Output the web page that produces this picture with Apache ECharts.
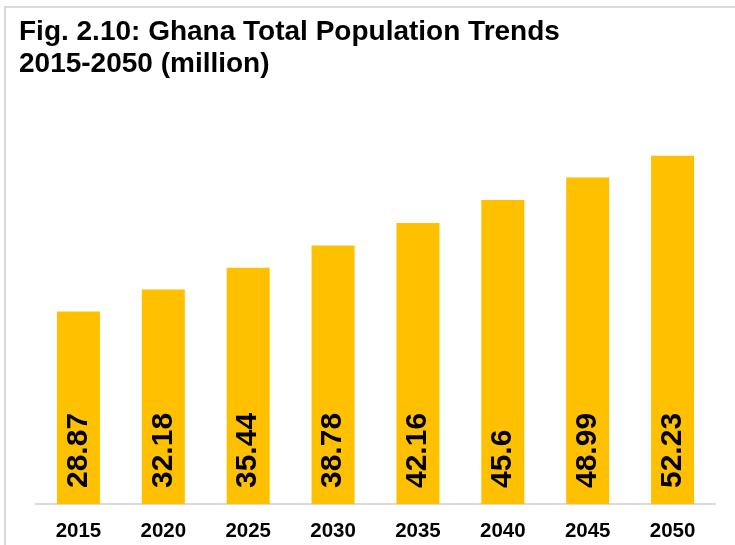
<!DOCTYPE html>
<html>
<head>
<meta charset="utf-8">
<script src="https://cdn.jsdelivr.net/npm/echarts@6/dist/echarts.min.js"></script>
<style>
  html, body { margin: 0; padding: 0; background: #ffffff; }
  #chart { width: 735px; height: 545px; }
</style>
</head>
<body>
<div id="chart"></div>
<script>
// Ghana total population projections, in millions
const years = ['2015', '2020', '2025', '2030', '2035', '2040', '2045', '2050'];
const population = [28.87, 32.18, 35.44, 38.78, 42.16, 45.6, 48.99, 52.23];
const titleLines = ['Fig. 2.10: Ghana Total Population Trends', '2015-2050 (million)'];

const chart = echarts.init(document.getElementById('chart'));
const font = '"Liberation Sans", Arial, sans-serif';

chart.setOption({
  animation: false,
  backgroundColor: '#ffffff',
  graphic: [{
    type: 'rect',
    shape: { x: 5, y: 7, width: 760, height: 560 },
    style: { fill: 'none', stroke: '#d9d9d9', lineWidth: 2 },
    silent: true,
    z: -1
  }],
  title: {
    text: titleLines.join('\n'),
    left: 14,
    top: 11,
    textStyle: {
      fontFamily: font,
      fontWeight: 'bold',
      fontSize: 28,
      lineHeight: 32,
      color: '#000000'
    }
  },
  grid: { left: 36, right: 20, top: 104, bottom: 41 },
  xAxis: {
    type: 'category',
    data: years,
    axisLine: { lineStyle: { color: '#d9d9d9', width: 2 } },
    axisTick: { show: false },
    axisLabel: {
      fontFamily: font,
      fontWeight: 'bold',
      fontSize: 20.5,
      color: '#000000',
      margin: 17
    }
  },
  yAxis: {
    type: 'value',
    min: 0,
    max: 60,
    show: false,
    splitLine: { show: false }
  },
  series: [{
    type: 'bar',
    data: population,
    barWidth: 43,
    itemStyle: { color: '#FFC000' },
    label: {
      show: true,
      position: 'insideBottom',
      rotate: 90,
      align: 'left',
      verticalAlign: 'middle',
      distance: 16,
      fontFamily: font,
      fontWeight: 'bold',
      fontSize: 30,
      color: '#000000'
    }
  }]
});
</script>
</body>
</html>
